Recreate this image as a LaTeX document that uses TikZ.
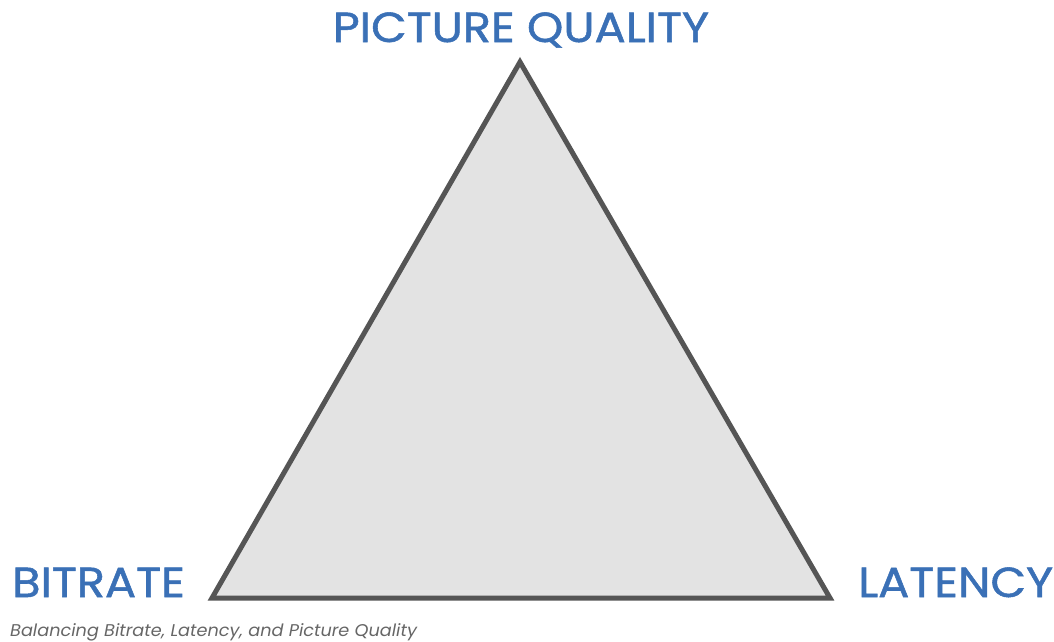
\documentclass[tikz,border=0pt]{standalone}
\usepackage{fontspec}
\setmainfont{Poppins}[FakeStretch=1.1, FakeBold=1.3]
\newfontfamily\capfont{Poppins}[FakeStretch=1.04]
\definecolor{lblue}{HTML}{3A70B6}
\definecolor{edgegray}{HTML}{555555}
\definecolor{fillgray}{HTML}{E3E3E3}
\definecolor{capgray}{HTML}{666666}
\begin{document}
\begin{tikzpicture}[x=1pt,y=-1pt,
  label/.style={text=lblue, font=\fontsize{42}{42}\selectfont, inner sep=0pt},
  caption/.style={text=capgray, font=\capfont\itshape\fontsize{17}{17}\selectfont, inner sep=0pt}]
\useasboundingbox (0,0) rectangle (1054,642);
\coordinate (top) at (520,62);
\coordinate (bl) at (212,598);
\coordinate (br) at (830,598);
\draw[line width=5pt, edgegray, fill=fillgray, line join=miter] (top) -- (bl) -- (br) -- cycle;
\node[label, anchor=base] (pq) at (521,42) {PICTURE QUALITY};
\node[label, anchor=base west] (bit) at (12,597) {BITRATE};
\node[label, anchor=base west] (lat) at (858,597) {LATENCY};
\node[caption, anchor=base west] (cap) at (10,636) {Balancing Bitrate, Latency, and Picture Quality};
\end{tikzpicture}
\end{document}
